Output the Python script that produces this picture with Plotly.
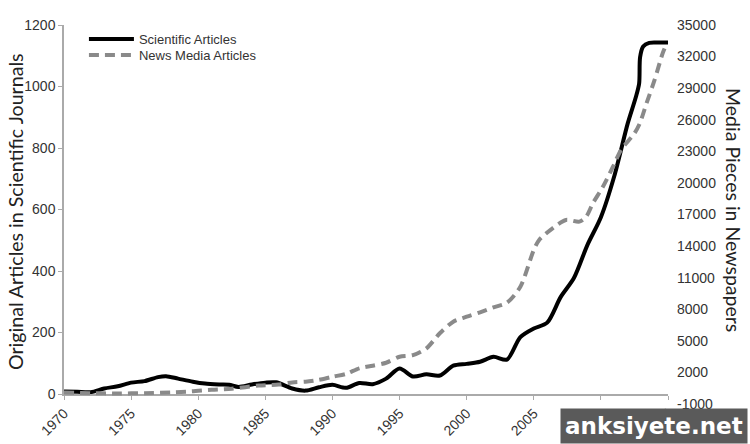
import plotly.graph_objects as go

# Scientific articles (left axis)
sci_years = [1970, 1971, 1972, 1973, 1974, 1975, 1976, 1977, 1977.6, 1978.5, 1979.6, 1980.5,
             1981.6, 1982.3, 1983, 1984, 1985, 1985.8, 1987, 1988, 1989, 1990, 1991, 1992,
             1993, 1994, 1995, 1996, 1997, 1998, 1999, 2000, 2001, 2002, 2003, 2004, 2005,
             2006, 2007, 2008, 2009, 2010, 2011, 2012, 2012.6, 2012.85, 2012.92, 2013.15,
             2013.6, 2014.3, 2015]
sci_vals = [8, 7, 6, 18, 25, 37, 42, 55, 58, 50, 40, 34,
            31, 30, 23, 31, 37, 38, 18, 11, 22, 30, 20, 36,
            32, 50, 83, 57, 64, 60, 92, 98, 105, 121, 112, 185, 213,
            232, 315, 378, 485, 575, 709, 880, 965, 1010, 1095, 1130,
            1142, 1143, 1143]

# News media articles (right axis)
news_years = [1970, 1972, 1974, 1976, 1978, 1979.5, 1981, 1982.5, 1984.5, 1986, 1987, 1988,
              1989, 1990, 1991, 1992, 1993, 1994, 1995, 1996, 1997, 1998, 1999, 2000, 2001,
              2002, 2003, 2004, 2005, 2005.4, 2006.4, 2007.4, 2008.4, 2008.9, 2009.4, 2010.15,
              2010.9, 2011.5, 2012.5, 2012.9, 2013.4, 2014.0, 2014.6, 2014.8]
news_vals = [100, 30, 0, 30, 100, 200, 350, 450, 750, 850, 1050, 1120,
             1300, 1590, 1850, 2390, 2640, 2920, 3490, 3650, 4290, 5720, 6820, 7290, 7710,
             8180, 8620, 10140, 13630, 14580, 15690, 16480, 16320, 16790, 18060, 19640,
             21540, 23130, 24710, 25660, 27560, 29780, 32310, 32940]

left_ticks = [0, 200, 400, 600, 800, 1000, 1200]
right_ticks = [-1000, 2000, 5000, 8000, 11000, 14000, 17000, 20000, 23000, 26000, 29000, 32000, 35000]
right_labels = [str(v) for v in right_ticks]
x_ticks = [1970, 1975, 1980, 1985, 1990, 1995, 2000, 2005, 2010, 2015]

fig = go.Figure()
fig.add_trace(go.Scatter(x=news_years, y=news_vals, mode="lines", name="News Media Articles",
                         line=dict(color="#8a8a8a", width=4, dash="10px,6px", shape="spline", smoothing=0.8),
                         xaxis="x", yaxis="y2", legend="legend2"))
fig.add_trace(go.Scatter(x=sci_years, y=sci_vals, mode="lines", name="Scientific Articles",
                         line=dict(color="black", width=4, shape="spline", smoothing=0.8),
                         xaxis="x", yaxis="y", legend="legend"))

tickfont = dict(family="Liberation Sans, Arial, sans-serif", size=14, color="#333")
legfont = dict(family="Liberation Sans, Arial, sans-serif", size=13, color="#333")
fig.update_layout(
    width=750, height=444,
    margin=dict(l=64, r=82, t=25, b=40),
    paper_bgcolor="white", plot_bgcolor="rgba(0,0,0,0)",
    showlegend=True,
    legend=dict(x=0.033, y=(404 - 39) / 379, xanchor="left", yanchor="middle",
                bgcolor="rgba(0,0,0,0)", font=legfont, itemwidth=45),
    legend2=dict(x=0.033, y=(404 - 55) / 379, xanchor="left", yanchor="middle",
                 bgcolor="rgba(0,0,0,0)", font=legfont, itemwidth=45),
    xaxis=dict(range=[1970, 2015], tickvals=x_ticks, tickangle=-45, tickfont=tickfont,
               showgrid=False, zeroline=False, showline=True, linecolor="#aaa", linewidth=1.5,
               ticks="outside", ticklen=4, tickcolor="#aaa", anchor="y", automargin=False),
    yaxis=dict(range=[0, 1200], tickvals=left_ticks, domain=[10 / 379, 1], tickfont=tickfont,
               showgrid=False, zeroline=False, showline=True, linecolor="#aaa", linewidth=1.5,
               ticks="outside", ticklen=4, tickcolor="#aaa", anchor="x", automargin=False),
    yaxis2=dict(range=[-1000, 35000], tickvals=right_ticks, ticktext=right_labels, domain=[0, 1],
                side="right", anchor="x", tickfont=tickfont, showgrid=False, zeroline=False,
                showline=False, ticks="", ticklabelstandoff=8, automargin=False),
    annotations=[
        dict(text="Original Articles in Scientific Journals", xref="paper", yref="paper",
             x=0, y=(404 - 212) / 379, xanchor="center", yanchor="middle", xshift=-49,
             textangle=-90, showarrow=False,
             font=dict(family="Lato, sans-serif", size=19.6, color="#222")),
        dict(text="Media Pieces in Newspapers", xref="paper", yref="paper",
             x=1, y=(404 - 210) / 379, xanchor="center", yanchor="middle", xshift=66,
             textangle=90, showarrow=False,
             font=dict(family="Lato, sans-serif", size=19.5, color="#222")),
        dict(text="<b>anksiyete.net</b>", xref="paper", yref="paper", x=1.132, y=-0.011,
             xanchor="right", yanchor="top", showarrow=False, bgcolor="#5a5a5a",
             borderpad=4, font=dict(family="DejaVu Sans, sans-serif", size=23, color="white")),
    ],
)

fig.write_html("out.html")
